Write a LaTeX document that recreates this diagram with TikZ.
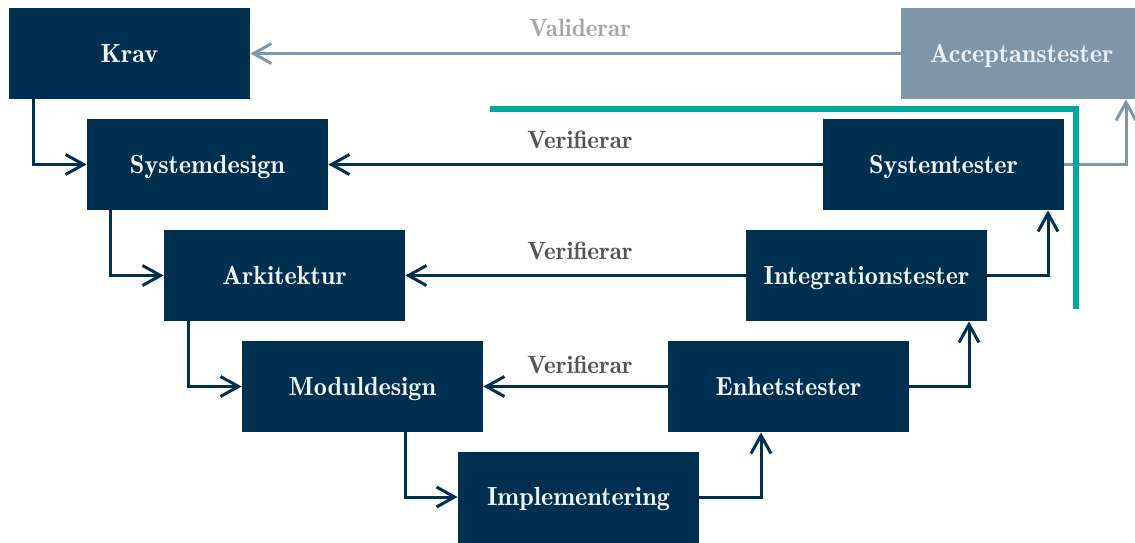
\documentclass[tikz,border=0pt]{standalone}
\usepackage{fontspec}
\setmainfont{lmromandemi10-regular.otf}
\usetikzlibrary{arrows.meta}
\definecolor{navy}{HTML}{00304F}
\definecolor{slate}{HTML}{7F96A8}
\definecolor{teal2}{HTML}{00A99D}
\definecolor{lblgray}{HTML}{A6A6A6}
\definecolor{lbldark}{HTML}{555555}
\begin{document}
\begin{tikzpicture}[x=0.5pt,y=-0.5pt,
  stage/.style={fill=navy,text=white!95!navy,minimum width=120.5pt,minimum height=45.5pt,inner sep=0pt,text height=8.9pt,text depth=0pt,font=\fontsize{13.1}{15}\selectfont},
  accept/.style={stage,fill=slate,text=white!85!slate},
  flow/.style={draw=navy,line width=1.5pt,-{Straight Barb[length=9pt,width=10pt,line width=1.5pt]}},
  gflow/.style={flow,draw=slate},
  lbl/.style={font=\fontsize{12.5}{14}\selectfont,text=lbldark}]
\useasboundingbox (0,0) rectangle (1135,542);
\node[stage] (krav) at (129.5,53.5) {Krav};
\node[stage] (sysd) at (207.5,164.5) {Systemdesign};
\node[stage] (ark)  at (284.5,275.5) {Arkitektur};
\node[stage] (mod)  at (362.5,386.5) {Moduldesign};
\node[stage] (impl) at (578.5,497) {Implementering};
\node[stage] (enh)  at (788.5,386.5) {Enhetstester};
\node[stage] (intg) at (866.5,275.5) {Integrationstester};
\node[stage] (syst) at (943.5,164.5) {Systemtester};
\node[accept] (acc) at (1021.5,53.5) {Acceptanstester};
% left leg
\draw[flow] (krav.south -| 33,0) |- (sysd.west);
\draw[flow] (sysd.south -| 110,0) |- (ark.west);
\draw[flow] (ark.south -| 188,0) |- (mod.west);
\draw[flow] (mod.south -| 405,0) |- (impl.west);
% right leg
\draw[flow] (impl.east) -| (enh.south -| 761,0);
\draw[flow] (enh.east) -| (intg.south -| 969,0);
\draw[flow] (intg.east) -| (syst.south -| 1048,0);
\draw[gflow] (syst.east) -| (acc.south -| 1126,0);
% verification
\draw[flow] (syst.west) -- (sysd.east);
\draw[flow] (intg.west) -- (ark.east);
\draw[flow] (enh.west) -- (mod.east);
\draw[gflow] (acc.west) -- (krav.east);
\node[lbl,text=lblgray] (lv) at (580,28) {Validerar};
\node[lbl] (l1) at (580,140) {Verifierar};
\node[lbl] (l2) at (580,251) {Verifierar};
\node[lbl] (l3) at (580,365) {Verifierar};
% teal boundary
\coordinate (t1) at (490,109);
\coordinate (t2) at (1075.5,109);
\coordinate (t3) at (1075.5,309);
\draw[teal2,line width=3pt] (t1) -- (t2) -- (t3);
\end{tikzpicture}
\end{document}
